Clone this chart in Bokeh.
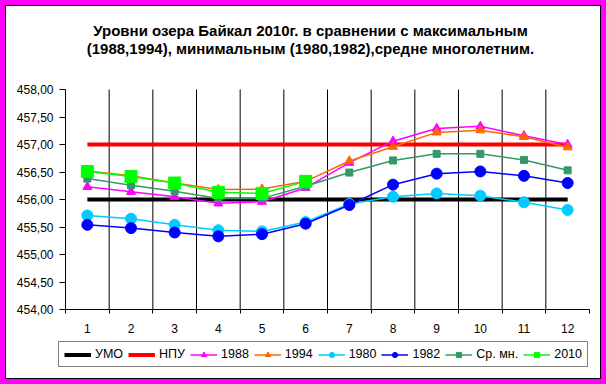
from bokeh.plotting import figure
from bokeh.models import FixedTicker, CustomJSTickFormatter, Label, Legend, Range1d
from bokeh.embed import file_html
from bokeh.resources import INLINE

# ---------------- data ----------------
months = [1, 2, 3, 4, 5, 6, 7, 8, 9, 10, 11, 12]
umo = [456.0] * 12
npu = [457.0] * 12
y1988 = [456.23, 456.14, 456.05, 455.93, 455.96, 456.21, 456.67, 457.06, 457.29, 457.33, 457.16, 457.00]
y1994 = [456.52, 456.43, 456.30, 456.18, 456.19, 456.33, 456.70, 456.96, 457.22, 457.26, 457.14, 456.95]
y1980 = [455.71, 455.65, 455.54, 455.44, 455.42, 455.59, 455.92, 456.05, 456.11, 456.07, 455.95, 455.81]
y1982 = [455.54, 455.48, 455.40, 455.33, 455.37, 455.56, 455.90, 456.27, 456.47, 456.51, 456.43, 456.30]
avg = [456.38, 456.26, 456.15, 456.02, 456.02, 456.24, 456.49, 456.71, 456.83, 456.83, 456.72, 456.53]
months2010 = [1, 2, 3, 4, 5, 6]
y2010 = [456.51, 456.42, 456.30, 456.13, 456.11, 456.33]
y_ticks = [454.0, 454.5, 455.0, 455.5, 456.0, 456.5, 457.0, 457.5, 458.0]
title_lines = ["Уровни озера Байкал 2010г. в сравнении с максимальным",
               "(1988,1994), минимальным (1980,1982),средне многолетним."]

# ---------------- layout (pixels) ----------------
FONT = "Liberation Sans"
W, H = 590, 368
X0_PX, X1_PX = 65, 589          # plot area left / right
Y_TOP_PX, Y_BOT_PX = 89, 309    # plot area top / bottom
x_lo, x_hi = months[0] - 0.5, months[-1] + 0.5
y_lo, y_hi = y_ticks[0], y_ticks[-1]
ux = (X1_PX - X0_PX) / (x_hi - x_lo)
uy = (Y_BOT_PX - Y_TOP_PX) / (y_hi - y_lo)
xr = Range1d(x_lo - X0_PX / ux, x_hi + (W - X1_PX) / ux)
yr = Range1d(y_lo - (H - Y_BOT_PX) / uy, y_hi + Y_TOP_PX / uy)


def px_x(px):
    return xr.start + px / ux


def px_y(py):
    return yr.end - py / uy


p = figure(width=W, height=H, output_backend="svg", toolbar_location=None,
           x_range=xr, y_range=yr,
           min_border_left=0, min_border_right=0, min_border_top=0, min_border_bottom=0)
p.title.visible = False
p.styles = {"box-shadow": ("inset 5px 5px 0 0 #FF00FF, inset 6px 6px 0 0 #000000, "
                           "8px 8px 0 2px #FFFFFF, 8px 8px 0 3px #000000, 8px 8px 0 8px #FF00FF")}
p.outline_line_color = None
p.background_fill_alpha = 0
p.border_fill_alpha = 0
p.xgrid.visible = False
p.ygrid.visible = False

# ---------------- axes ----------------
p.yaxis.fixed_location = x_lo
p.yaxis.bounds = (y_lo, y_hi)
p.yaxis.ticker = FixedTicker(ticks=y_ticks)
p.yaxis.formatter = CustomJSTickFormatter(code="return tick.toFixed(2).replace('.', ',');")
p.yaxis.major_tick_out = 6
p.yaxis.major_tick_in = 0
p.yaxis.minor_tick_out = 0
p.yaxis.minor_tick_in = 0
p.yaxis.major_label_standoff = 6

p.xaxis.fixed_location = y_lo
p.xaxis.bounds = (x_lo, x_hi)
p.xaxis.ticker = FixedTicker(ticks=months, minor_ticks=[m - 0.5 for m in months] + [x_hi])
p.xaxis.major_tick_out = 0
p.xaxis.major_tick_in = 0
p.xaxis.minor_tick_out = 4
p.xaxis.minor_tick_in = 0
p.xaxis.major_label_standoff = 10
for ax in (p.xaxis, p.yaxis):
    ax.axis_line_color = "black"
    ax.major_tick_line_color = "black"
    ax.minor_tick_line_color = "black"
    ax.major_label_text_font = FONT
    ax.major_label_text_font_size = "12px"
    ax.major_label_text_color = "black"

# vertical gridlines between the months
bounds_x = [m + 0.5 for m in months[:-1]]
p.segment(x0=bounds_x, y0=[y_lo] * len(bounds_x), x1=bounds_x, y1=[y_hi] * len(bounds_x),
          line_color="black", line_width=1)

# ---------------- series ----------------
r_umo = p.line(months, umo, line_color="black", line_width=4)
r_npu = p.line(months, npu, line_color="#FF0000", line_width=4)
r88l = p.line(months, y1988, line_color="#FF00FF", line_width=1.5)
r88m = p.scatter(months, y1988, marker="triangle", size=9, fill_color="#FF00FF", line_color="#FF00FF")
r94l = p.line(months, y1994, line_color="#FF6600", line_width=1.5)
r94m = p.scatter(months, y1994, marker="triangle", size=9, fill_color="#FF6600", line_color="#FF6600")
r80l = p.line(months, y1980, line_color="#00CCFF", line_width=1.5)
r80m = p.scatter(months, y1980, marker="circle", size=11, fill_color="#00CCFF", line_color="#00CCFF")
r82l = p.line(months, y1982, line_color="#0000FF", line_width=1.5)
r82m = p.scatter(months, y1982, marker="circle", size=11, fill_color="#0000FF", line_color="#0000FF")
ravl = p.line(months, avg, line_color="#339966", line_width=1.5)
ravm = p.scatter(months, avg, marker="square", size=7, fill_color="#339966", line_color="#339966")
r10l = p.line(months2010, y2010, line_color="#00FF00", line_width=1.5)
r10m = p.scatter(months2010, y2010, marker="square", size=12, fill_color="#00FF00", line_color="#00FF00")

legend = Legend(items=[("УМО", [r_umo]), ("НПУ", [r_npu]), ("1988", [r88l, r88m]),
                       ("1994", [r94l, r94m]), ("1980", [r80l, r80m]), ("1982", [r82l, r82m]),
                       ("Ср. мн.", [ravl, ravm]), ("2010", [r10l, r10m])],
                orientation="horizontal", location=(58, 1),
                glyph_width=27, glyph_height=13, label_height=13, label_standoff=4,
                spacing=5, padding=5, margin=0,
                label_text_font=FONT, label_text_font_size="12.5px", label_text_color="black",
                border_line_color="black", border_line_width=1, background_fill_color="white",
                background_fill_alpha=1.0)
p.add_layout(legend, "center")

# ---------------- title ----------------
for py, t in zip([30, 48], title_lines):
    p.add_layout(Label(x=px_x(310), y=px_y(py), text=t, text_align="center",
                       text_baseline="middle", text_font=FONT, text_font_size="15px",
                       text_font_style="bold", text_color="black"))

open("out.html", "w").write(file_html(p, INLINE))
